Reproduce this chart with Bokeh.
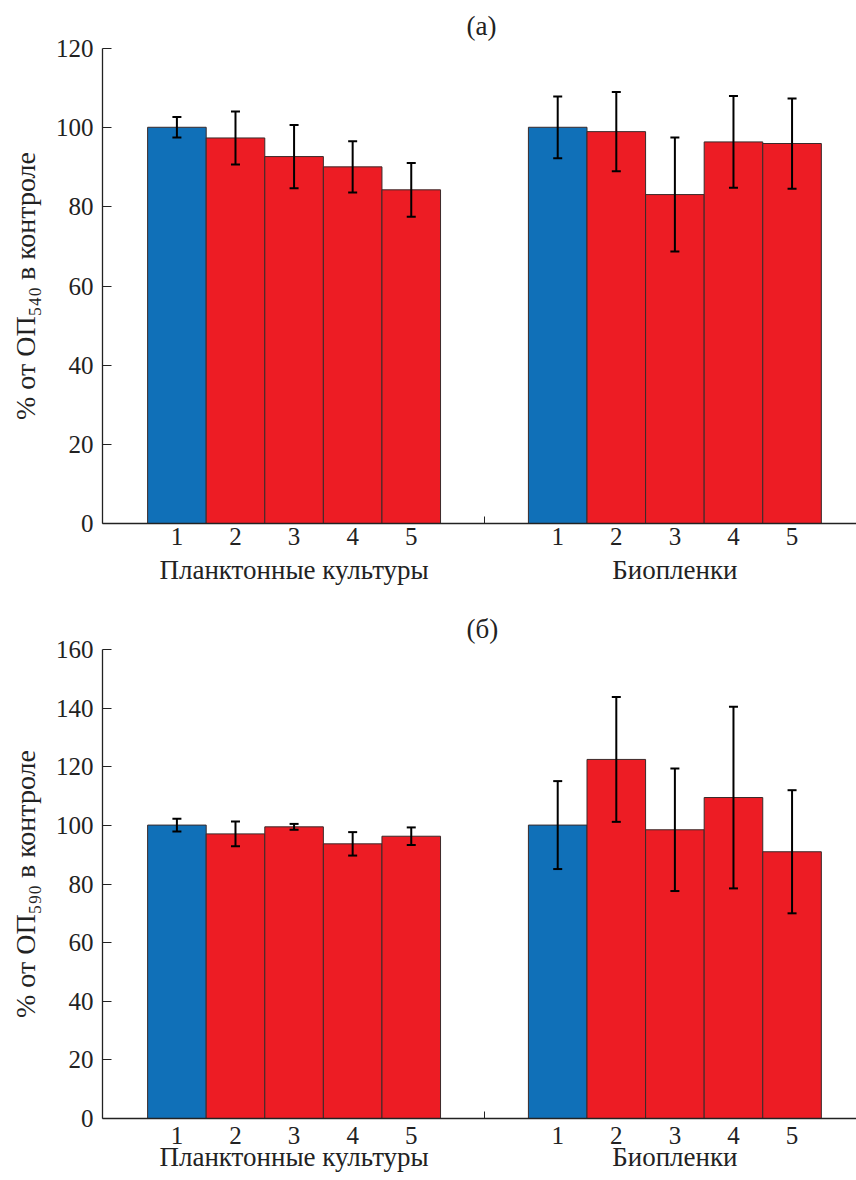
from bokeh.plotting import figure
from bokeh.layouts import column
from bokeh.models import (ColumnDataSource, Range1d, FixedTicker, LinearAxis,
                          Whisker, TeeHead)
from bokeh.embed import file_html
from bokeh.resources import INLINE

# ---------------- data ----------------
groups = ["Планктонные культуры", "Биопленки"]
bar_labels = ["1", "2", "3", "4", "5"]

a_plankton = [100.1, 97.4, 92.7, 90.1, 84.3]
a_plankton_err = [2.6, 6.7, 8.0, 6.5, 6.8]
a_biofilm = [100.1, 99.0, 83.1, 96.4, 96.0]
a_biofilm_err = [7.8, 10.0, 14.4, 11.6, 11.4]

b_plankton = [100.1, 97.1, 99.5, 93.7, 96.3]
b_plankton_err = [2.2, 4.2, 1.0, 4.0, 3.0]
b_biofilm = [100.1, 122.5, 98.5, 109.5, 91.0]
b_biofilm_err = [15.0, 21.3, 20.9, 31.0, 21.0]

panel_titles = ["(а)", "(б)"]
y_labels = ["% от ОП\u2085\u2084\u2080 в контроле", "% от ОП\u2085\u2089\u2080 в контроле"]
y_max = [120, 160]

BLUE = "#1070b8"
RED = "#ed1c24"
FONT = "Liberation Serif"
GROUP_OFFSET = 6.5


def make_fig(title, ylabel, ymax, plank, plank_err, bio, bio_err, height,
             border_top, border_bottom, title_standoff, num_standoff, group_standoff):
    n = len(bar_labels)
    xs = [i + 1 for i in range(n)] + [i + 1 + GROUP_OFFSET for i in range(n)]
    vals = list(plank) + list(bio)
    errs = list(plank_err) + list(bio_err)
    colors = ([BLUE] + [RED] * (n - 1)) * 2
    src = ColumnDataSource(dict(
        x=xs, top=vals, color=colors,
        upper=[v + e for v, e in zip(vals, errs)],
        lower=[v - e for v, e in zip(vals, errs)],
    ))

    p = figure(width=856, height=height, output_backend="svg", toolbar_location=None,
               x_range=Range1d(-0.27, 12.6), y_range=Range1d(0, ymax),
               min_border_left=102, min_border_right=0,
               min_border_top=border_top, min_border_bottom=border_bottom,
               x_axis_location=None)
    p.outline_line_color = None
    p.xgrid.visible = False
    p.ygrid.visible = False

    p.vbar(x="x", top="top", width=1.0, bottom=0, source=src,
           fill_color="color", line_color="#3a2a2a", line_width=1)

    w = Whisker(base="x", upper="upper", lower="lower", source=src,
                level="overlay",
                line_color="black", line_width=2,
                upper_head=TeeHead(size=9, line_color="black", line_width=2),
                lower_head=TeeHead(size=9, line_color="black", line_width=2))
    p.add_layout(w)

    p.title.text = title
    p.title.align = "left"
    p.title.offset = 364
    p.title.text_font = FONT
    p.title.text_font_size = "27px"
    p.title.text_font_style = "normal"
    p.title.text_color = "#222222"
    p.title.standoff = title_standoff

    ya = p.yaxis[0]
    ya.ticker = FixedTicker(ticks=list(range(0, ymax + 1, 20)), minor_ticks=[])
    ya.major_tick_in = 9
    ya.major_tick_out = 0
    ya.minor_tick_in = 0
    ya.minor_tick_out = 0
    ya.major_label_text_font = FONT
    ya.major_label_text_font_size = "25px"
    ya.major_label_text_color = "#222222"
    ya.major_label_standoff = 9
    ya.axis_line_color = "#222222"
    ya.major_tick_line_color = "#222222"
    ya.axis_line_width = 1.3
    ya.axis_label = ylabel
    ya.axis_label_text_font = FONT
    ya.axis_label_text_font_size = "28px"
    ya.axis_label_text_font_style = "normal"
    ya.axis_label_text_color = "#222222"
    ya.axis_label_standoff = 12

    xa = LinearAxis(ticker=FixedTicker(ticks=xs, minor_ticks=[1 + GROUP_OFFSET / 2 + (n - 1) / 2]))
    xa.major_label_overrides = {x: lab for x, lab in zip(xs, bar_labels * 2)}
    xa.major_tick_in = 0
    xa.major_tick_out = 0
    xa.minor_tick_in = 7
    xa.minor_tick_out = 0
    xa.axis_line_color = "#222222"
    xa.axis_line_width = 1.3
    xa.minor_tick_line_color = "#222222"
    xa.major_label_text_font = FONT
    xa.major_label_text_font_size = "25px"
    xa.major_label_text_color = "#222222"
    xa.major_label_standoff = num_standoff
    p.add_layout(xa, "below")

    centers = [(n + 1) / 2, (n + 1) / 2 + GROUP_OFFSET]
    ga = LinearAxis(ticker=FixedTicker(ticks=centers, minor_ticks=[]))
    ga.major_label_overrides = {c: g for c, g in zip(centers, groups)}
    ga.axis_line_color = None
    ga.major_tick_line_color = None
    ga.major_tick_in = 0
    ga.major_tick_out = 0
    ga.minor_tick_line_color = None
    ga.major_label_text_font = FONT
    ga.major_label_text_font_size = "27px"
    ga.major_label_text_color = "#222222"
    ga.major_label_standoff = group_standoff
    p.add_layout(ga, "below")
    return p


p1 = make_fig(panel_titles[0], y_labels[0], y_max[0], a_plankton, a_plankton_err,
              a_biofilm, a_biofilm_err, height=597, border_top=47, border_bottom=74,
              title_standoff=16, num_standoff=4, group_standoff=7)
p2 = make_fig(panel_titles[1], y_labels[1], y_max[1], b_plankton, b_plankton_err,
              b_biofilm, b_biofilm_err, height=583, border_top=52, border_bottom=62,
              title_standoff=11, num_standoff=8, group_standoff=-5)

layout = column(p1, p2, spacing=0)
open("out.html", "w").write(file_html(layout, INLINE))
